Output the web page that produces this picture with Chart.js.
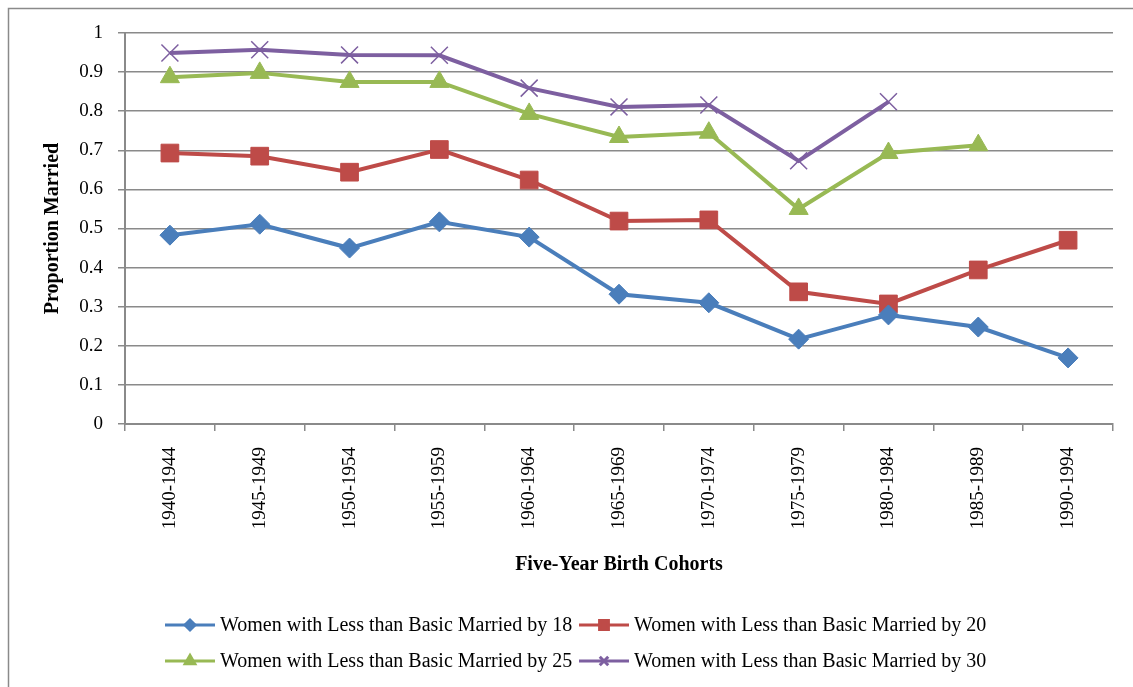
<!DOCTYPE html>
<html>
<head>
<meta charset="utf-8">
<script src="https://cdn.jsdelivr.net/npm/chart.js@4/dist/chart.umd.min.js"></script>
<style>
  html, body { margin: 0; padding: 0; background: #fff; }
  #wrap { width: 1133px; height: 687px; }
</style>
</head>
<body>
<div id="wrap"><canvas id="marriageChart" width="1133" height="687"></canvas></div>
<script>
const cohorts = ["1940-1944", "1945-1949", "1950-1954", "1955-1959", "1960-1964", "1965-1969",
  "1970-1974", "1975-1979", "1980-1984", "1985-1989", "1990-1994"];
const marriedBy18 = [0.483, 0.511, 0.450, 0.517, 0.478, 0.332, 0.310, 0.217, 0.279, 0.248, 0.169];
const marriedBy20 = [0.693, 0.685, 0.644, 0.702, 0.624, 0.519, 0.522, 0.338, 0.307, 0.394, 0.470];
const marriedBy25 = [0.887, 0.898, 0.875, 0.875, 0.793, 0.734, 0.745, 0.550, 0.693, 0.713, null];
const marriedBy30 = [0.949, 0.957, 0.944, 0.943, 0.859, 0.811, 0.816, 0.673, 0.824, null, null];
const seriesNames = [
  "Women with Less than Basic Married by 18",
  "Women with Less than Basic Married by 20",
  "Women with Less than Basic Married by 25",
  "Women with Less than Basic Married by 30"
];

const serif = "'Liberation Serif', 'Times New Roman', serif";
const gray = "#8a8a8a";

// frame + legend drawn like the Excel original (line with marker in the middle)
const excelLook = {
  id: "excelLook",
  beforeDraw(chart) {
    const c = chart.ctx;
    c.save();
    c.fillStyle = "#fff";
    c.fillRect(0, 0, chart.width, chart.height);
    c.strokeStyle = gray;
    c.lineWidth = 1.5;
    c.beginPath();
    c.moveTo(8.5, chart.height);
    c.lineTo(8.5, 8.5);
    c.lineTo(chart.width, 8.5);
    c.stroke();
    c.restore();
  },
  afterDraw(chart) {
    const c = chart.ctx;
    const spots = [[165, 625], [579, 625], [165, 661], [579, 661]];
    c.save();
    c.textBaseline = "middle";
    chart.data.datasets.forEach((ds, i) => {
      const [x, y] = spots[i];
      c.strokeStyle = ds.borderColor;
      c.fillStyle = ds.borderColor;
      c.lineWidth = 3;
      c.beginPath();
      c.moveTo(x, y);
      c.lineTo(x + 50, y);
      c.stroke();
      Chart.helpers.drawPoint(c, {
        pointStyle: ds.pointStyle,
        radius: ds.pointRadius * 0.5,
        borderWidth: ds.pointBorderWidth
      }, x + 25, y);
      c.fillStyle = "#000";
      c.font = "20px " + serif;
      c.fillText(ds.label, x + 55, y + 1);
    });
    c.restore();
  }
};

function makeSet(i, values, color, style, radius) {
  return {
    label: seriesNames[i],
    data: values,
    borderColor: color,
    backgroundColor: color,
    pointBackgroundColor: color,
    pointBorderColor: color,
    borderWidth: 4,
    pointStyle: style,
    pointRadius: radius,
    pointHoverRadius: radius,
    pointBorderWidth: style === "crossRot" ? 1.5 : 1,
    tension: 0
  };
}

new Chart(document.getElementById("marriageChart"), {
  type: "line",
  data: {
    labels: cohorts,
    datasets: [
      makeSet(0, marriedBy18, "#4a7ebb", "rectRot", 10),
      makeSet(1, marriedBy20, "#be4b48", "rect", 12.5),
      makeSet(2, marriedBy25, "#98b954", "triangle", 11),
      makeSet(3, marriedBy30, "#7d5fa0", "crossRot", 12)
    ]
  },
  options: {
    responsive: false,
    animation: false,
    layout: { padding: { left: 12, top: 33, right: 20, bottom: 103 } },
    plugins: {
      legend: { display: false },
      tooltip: { enabled: false }
    },
    scales: {
      x: {
        offset: true,
        grid: { offset: true, drawOnChartArea: false, drawTicks: true, tickLength: 7, color: gray, lineWidth: 1.5 },
        border: { color: gray, width: 2 },
        ticks: { color: "#000", font: { family: serif, size: 19 }, minRotation: 90, maxRotation: 90, padding: 16, autoSkip: false },
        title: {
          display: true,
          text: "Five-Year Birth Cohorts",
          color: "#000",
          font: { family: serif, size: 20, weight: "bold" },
          padding: { top: 20, bottom: 7 }
        },
        afterFit(scale) { scale.height = 160; }
      },
      y: {
        min: 0,
        max: 1,
        grid: { color: gray, lineWidth: 1.5, tickLength: 7 },
        border: { color: gray, width: 2 },
        ticks: {
          stepSize: 0.1,
          color: "#000",
          font: { family: serif, size: 19 },
          padding: 15,
          callback: v => String(Math.round(v * 10) / 10)
        },
        title: {
          display: true,
          text: "Proportion Married",
          color: "#000",
          font: { family: serif, size: 20, weight: "bold" },
          padding: { top: 29, bottom: 8 }
        },
        afterFit(scale) { scale.width = 113; }
      }
    }
  },
  plugins: [excelLook]
});
</script>
</body>
</html>
